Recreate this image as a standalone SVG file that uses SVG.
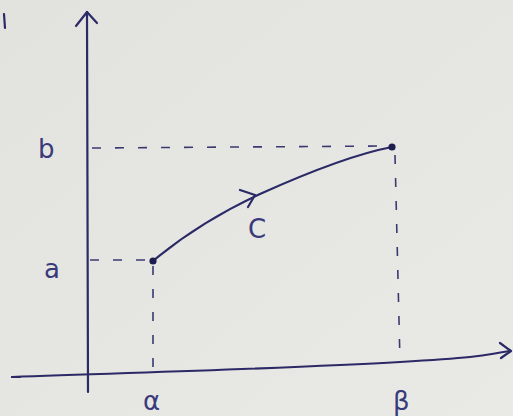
<svg xmlns="http://www.w3.org/2000/svg" width="513" height="416" viewBox="0 0 513 416">
<style>
.ink{fill:none;stroke:#2b2a66;stroke-width:2.2;stroke-linecap:round;stroke-linejoin:round}
.dash{fill:none;stroke:#3a3a70;stroke-width:1.6;stroke-dasharray:9 14}
.lbl{font-family:"DejaVu Sans","Liberation Sans",sans-serif;font-size:26px;fill:#3a3a7a}
</style>
<defs>
<linearGradient id="bg" x1="0" y1="0" x2="1" y2="1">
<stop offset="0" stop-color="#e2e3df"/>
<stop offset="1" stop-color="#e9e9e6"/>
</linearGradient>
</defs>
<rect width="513" height="416" fill="url(#bg)"/>
<g id="axes">
<path class="ink" d="M88,392 L87,12"/>
<path class="ink" d="M76,26 L87,12 L97,23"/>
<path class="ink" d="M12,377 C150,372 300,368 400,362 S480,355 510,351" stroke-width="2.4"/>
<path class="ink" d="M500,343 L511,351 L501,358"/>
<path class="ink" d="M12,377 L20,377" stroke-width="4"/>
<path class="ink" d="M4,14 L5,28"/>
</g>
<g id="guides">
<path class="dash" d="M92,148 L385,146"/>
<path class="dash" d="M90,260 L150,260"/>
<path class="dash" d="M153,266 L153,372"/>
<path class="dash" d="M395,155 L400,362"/>
</g>
<g id="curve">
<path class="ink" d="M153,261 C190,230 230,208 260,194 C300,176 350,155 392,147"/>
<path class="ink" d="M240,190 L255,195 L248,207"/>
<circle cx="153" cy="261" r="3.6" fill="#1e1d50"/>
<circle cx="392" cy="147" r="3.6" fill="#1e1d50"/>
</g>
<g id="labels">
<text class="lbl" x="38" y="158">b</text>
<text class="lbl" x="44" y="278">a</text>
<text class="lbl" x="248" y="238">C</text>
<text class="lbl" x="143" y="410">α</text>
<text class="lbl" x="393" y="410">β</text>
</g>
</svg>
